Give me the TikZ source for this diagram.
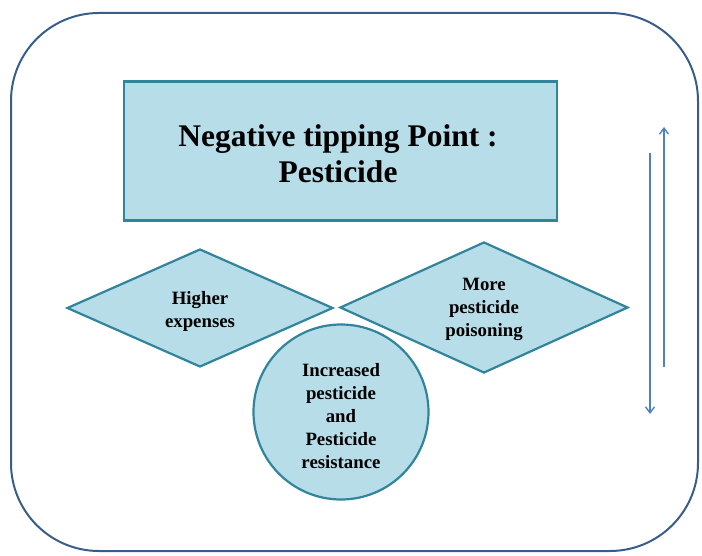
\documentclass[tikz,border=0pt]{standalone}
\usepackage{fontspec}
\setmainfont{Liberation Serif}
\usetikzlibrary{shapes.geometric,arrows.meta}
\definecolor{tealb}{HTML}{31849B}
\definecolor{lightf}{HTML}{B7DDE8}
\definecolor{frameb}{HTML}{385D8A}
\definecolor{arrowb}{HTML}{4F81BD}
\tikzset{
  shapebox/.style={draw=tealb, fill=lightf, line width=2.2pt, inner sep=0pt},
  lbl/.style={align=center, font=\bfseries\fontsize{18.8}{23}\selectfont, inner sep=0pt},
  flow/.style={draw=arrowb, line width=1.4pt, -{Straight Barb[length=6pt,width=9pt]}}
}
\begin{document}
\begin{tikzpicture}[x=1pt,y=-1pt]
\useasboundingbox (0,0) rectangle (702,556);
\node[draw=frameb, line width=2pt, rounded corners=88pt, minimum width=687pt, minimum height=538pt, inner sep=0pt] (frame) at (354.5,282) {};
\node[shapebox, minimum width=433pt, minimum height=139pt] (title) at (340.5,151) {};
\node[align=center, inner sep=0pt, font=\bfseries\fontsize{31.5}{36}\selectfont] (titlelbl) at (338,154) {Negative tipping Point :\\Pesticide};
\node[shapebox, diamond, aspect=2.25, minimum width=266pt, minimum height=118pt] (left) at (200,308) {};
\node[lbl] (leftlbl) at (200,311) {Higher\\expenses};
\node[shapebox, diamond, aspect=2.2, minimum width=288pt, minimum height=131pt] (right) at (484,307.5) {};
\node[lbl] (rightlbl) at (484,309) {More\\pesticide\\poisoning};
\node[shapebox, circle, minimum size=175pt] (circ) at (341,412) {};
\node[lbl] (circlbl) at (341,416) {Increased\\pesticide\\and\\Pesticide\\resistance};
\coordinate (d1) at (650,153);
\coordinate (d2) at (650,414);
\coordinate (u1) at (664,367);
\coordinate (u2) at (664,127);
\draw[flow] (d1) -- (d2);
\draw[flow] (u1) -- (u2);
\end{tikzpicture}
\end{document}
